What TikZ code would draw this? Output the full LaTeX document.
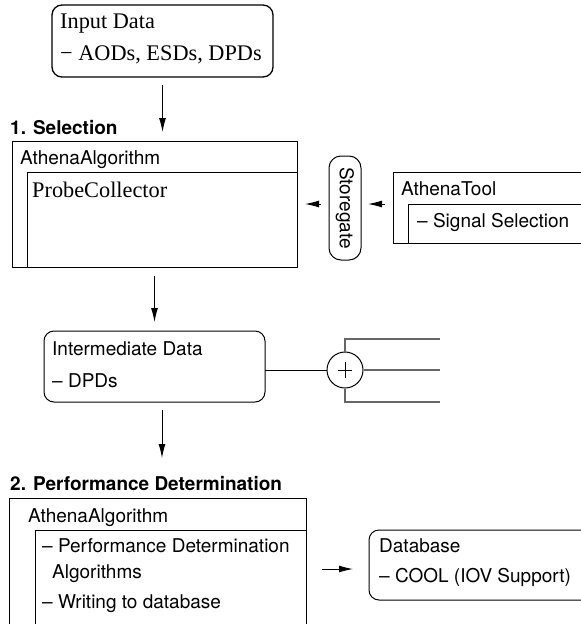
\documentclass[tikz,border=0pt]{standalone}
\usepackage{fontspec}
\setmainfont{Liberation Serif}
\setsansfont{TeX Gyre Heros}
\usepackage{tikz}
\usetikzlibrary{arrows.meta, positioning, calc}

\begin{document}
\begin{tikzpicture}[x=1pt, y=-1pt,
	box/.style={draw, line width=1pt, anchor=north west, inner sep=0pt, outer sep=0pt},
	rbox/.style={box, rounded corners=10pt},
	lbl/.style={anchor=base west, inner sep=0pt, font=\sffamily\fontsize{19}{23}\selectfont},
	slbl/.style={anchor=base west, inner sep=0pt, font=\rmfamily\fontsize{22.3}{26}\selectfont},
	head/.style={lbl, font=\sffamily\bfseries\fontsize{19}{23}\selectfont},
	arr/.style={-{Latex[length=14pt,width=7pt]}, line width=1pt},
	tree/.style={line width=1.4pt, black!60}
]
\useasboundingbox (0,0) rectangle (581,624);
\clip (0,0) rectangle (581,624);

% input data
\node[rbox, line width=1.3pt, minimum width=221pt, minimum height=72pt] (input) at (52,5) {};
\node[slbl] (inputt) at (60,28) {Input Data};
\node[slbl] (inputl) at (60,60) {− AODs, ESDs, DPDs};

% 1. selection
\node[head] (selhead) at (10,134) {1. Selection};
\node[box, minimum width=285pt, minimum height=126pt] (selalgo) at (12,141) {};
\node[box, minimum width=270pt, minimum height=95pt] (probe) at (27,172) {};
\node[lbl] (selalgot) at (20,164) {AthenaAlgorithm};
\node[slbl] (probet) at (32,197) {ProbeCollector};
\coordinate (selin) at (162.5,132);
\draw[arr, shorten <=8pt] (input.south) -- (selin);

% storegate and tool
\node[rbox, rounded corners=12pt, minimum width=32pt, minimum height=104pt] (store) at (329,156) {};
\node[lbl, anchor=center, rotate=-90] (storet) at (store.center) {Storegate};
\node[box, minimum width=200pt, minimum height=71pt] (tool) at (393,172) {};
\node[box, minimum width=190pt, minimum height=39pt] (signal) at (408,204) {};
\node[lbl] (toolt) at (401,195) {AthenaTool};
\node[lbl] (signalt) at (417,227) {– Signal Selection};
\draw[arr, shorten <=8pt, shorten >=8pt] (store.west |- selalgo.east) -- (selalgo.east);
\draw[arr, shorten <=8pt, shorten >=7pt] (tool.west |- selalgo.east) -- (store.east |- selalgo.east);

% intermediate data
\node[rbox, minimum width=221pt, minimum height=71pt] (inter) at (44,331) {};
\node[lbl] (intert) at (52,355) {Intermediate Data};
\node[lbl] (interl) at (52,387) {– DPDs};
\draw[arr, shorten <=9pt, shorten >=9pt] (inter.north |- selalgo.south) -- (inter.north);

% junction
\node[circle, draw, line width=1pt, minimum size=36pt, inner sep=0pt] (plus) at (345,370) {};
\draw[line width=1pt] ([xshift=-7pt]plus.center) -- ([xshift=7pt]plus.center);
\draw[line width=1pt] ([yshift=-8pt]plus.center) -- ([yshift=8pt]plus.center);
\draw[line width=1pt] (plus.west -| inter.east) -- (plus.west);
\coordinate (ttop) at (440,339);
\coordinate (tmid) at (440,370);
\coordinate (tbot) at (440,402);
\draw[tree] (plus.north) |- (ttop);
\draw[tree] (plus.east) -- (tmid);
\draw[tree] (plus.south) |- (tbot);

% 2. performance determination
\coordinate (perfin) at (162,458);
\draw[arr, shorten <=8pt] (inter.south -| perfin) -- (perfin);
\node[head] (perfhead) at (10,490) {2. Performance Determination};
\node[box, minimum width=297pt, minimum height=140pt] (perfalgo) at (9,498) {};
\node[box, minimum width=271pt, minimum height=110pt] (perfitems) at (35,530) {};
\node[lbl] (perfalgot) at (28,522) {AthenaAlgorithm};
\node[lbl] (perfa) at (42,552) {– Performance Determination};
\node[lbl] (perfb) at (52,578) {Algorithms};
\node[lbl] (perfc) at (42,608) {– Writing to database};

% database
\node[rbox, minimum width=230pt, minimum height=70pt] (db) at (369,530) {};
\node[lbl] (dbt) at (379,552) {Database};
\node[lbl] (dbl) at (379,582) {– COOL (IOV Support)};
\coordinate (dbin) at (353,569);
\draw[arr, shorten <=16pt] (perfitems.east |- dbin) -- (dbin);
\end{tikzpicture}
\end{document}
